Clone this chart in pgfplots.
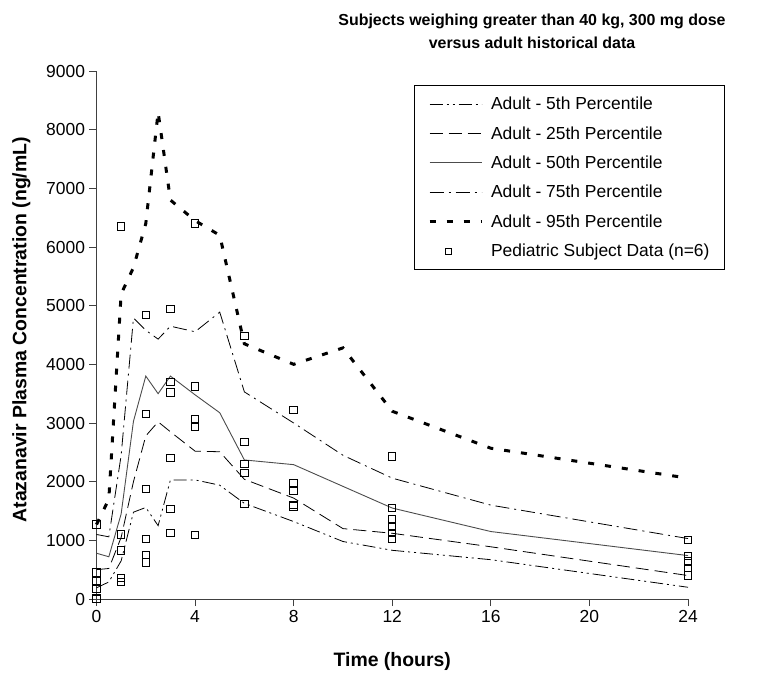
\documentclass[border=0pt]{standalone}
\usepackage{pgfplots}
\pgfplotsset{compat=1.18}
\usepackage{fontspec}
\setmainfont{Liberation Sans}
\pgfplotsset{
  linelegend/.style={legend image code/.code={\draw[##1] (0bp,0bp) -- (52bp,0bp); \path (59bp,0bp);}},
  marklegend/.style={legend image code/.code={\path (0bp,0bp) (59bp,0bp); \draw[##1, mark size=3bp] plot coordinates {(19bp,0bp)};}},
}
\begin{document}
\begin{tikzpicture}
\path[use as bounding box] (0,0) rectangle (771bp,673bp);
\begin{axis}[
  at={(96.5bp,74bp)}, anchor=origin,
  scale only axis, width=591.5bp, height=528bp,
  xmin=0, xmax=24, ymin=0, ymax=9000,
  axis x line=bottom, axis y line=left,
  axis line style={-, line width=1bp, black!75},
  xtick={0,4,8,12,16,20,24},
  ytick={0,1000,2000,3000,4000,5000,6000,7000,8000,9000},
  tick align=outside, major tick length=7bp,
  tick style={line width=1bp, black!75},
  /pgf/number format/assume math mode=true,
  /pgf/number format/1000 sep={},
  tick label style={font=\fontsize{17.5}{17.5}\selectfont},
  xticklabel style={yshift=-1bp},
  yticklabel style={xshift=-1bp},
  xlabel={\textbf{Time (hours)}},
  xlabel style={font=\fontsize{19.5}{19.5}\selectfont, at={(axis description cs:0.5,0)}, anchor=base, yshift=-67bp},
  ylabel={\textbf{Atazanavir Plasma Concentration (ng/mL)}},
  ylabel style={font=\fontsize{19.5}{19.5}\selectfont, at={(axis description cs:-0.1268,0.51)}, anchor=center},
  clip=false,
  legend style={at={(1.0626,0.9735)}, anchor=north east, draw=black, line width=1bp,
    font=\fontsize{17.5}{17.5}\selectfont, row sep=13.3bp, inner xsep=14bp, inner ysep=10.5bp,
    nodes={inner sep=1bp}},
  legend cell align=left,
]
\addplot[black, line width=0.8bp, dash pattern=on 13bp off 4bp on 2bp off 4bp on 2bp off 4bp, linelegend] coordinates {
(0,190) (0.5,290) (1,650) (1.5,1480) (2,1560) (2.5,1250) (3,2030) (4,2030) (5,1940) (6,1630) (8,1320) (10,980) (12,830) (16,670) (24,200)};
\addlegendentry{Adult - 5th Percentile}
\addplot[black, line width=0.8bp, dash pattern=on 13bp off 6bp, linelegend] coordinates {
(0,500) (0.5,520) (1,1050) (1.5,2000) (2,2780) (2.5,3020) (3,2850) (4,2520) (5,2510) (6,2040) (8,1720) (10,1200) (12,1120) (16,890) (24,400)};
\addlegendentry{Adult - 25th Percentile}
\addplot[black!70, line width=0.9bp, linelegend] coordinates {
(0,780) (0.5,720) (1,1450) (1.5,3030) (2,3800) (2.5,3500) (3,3800) (4,3480) (5,3175) (6,2370) (8,2290) (12,1550) (16,1150) (24,740)};
\addlegendentry{Adult - 50th Percentile}
\addplot[black, line width=0.8bp, dash pattern=on 14bp off 5bp on 2bp off 5bp, linelegend] coordinates {
(0,1100) (0.5,1060) (1,2450) (1.5,4790) (2,4580) (2.5,4430) (3,4650) (4,4555) (5,4890) (6,3530) (8,3000) (10,2450) (12,2060) (16,1600) (24,1030)};
\addlegendentry{Adult - 75th Percentile}
\addplot[black, line width=3bp, dash pattern=on 6bp off 11bp, linelegend] coordinates {
(0,1270) (0.5,1700) (1,5200) (1.5,5650) (2,6400) (2.5,8300) (3,6800) (4,6450) (5,6200) (6,4350) (8,4000) (10,4280) (12,3200) (16,2570) (24,2060)};
\addlegendentry{Adult - 95th Percentile}
\addplot[only marks, mark=square, mark size=3.7bp, mark options={black, line width=1bp, fill=white}, marklegend] coordinates {
(0,1270) (0,450) (0,300) (0,180) (0,0) (0,10)
(1,6350) (1,1100) (1,830) (1,360) (1,290)
(2,4840) (2,3150) (2,1870) (2,1020) (2,750) (2,620)
(3,4940) (3,3700) (3,3520) (3,2400) (3,1530) (3,1120)
(4,6400) (4,3620) (4,3060) (4,2940) (4,1090)
(6,4480) (6,2680) (6,2300) (6,2150) (6,1620)
(8,3220) (8,1980) (8,1840) (8,1600) (8,1580)
(12,2430) (12,1550) (12,1360) (12,1230) (12,1130) (12,1020)
(24,1010) (24,735) (24,640) (24,525) (24,400)};
\addlegendentry{Pediatric Subject Data (n=6)}
\end{axis}
\node[font=\bfseries\fontsize{16}{23}\selectfont, align=center] at (532bp,641.5bp)
  {Subjects weighing greater than 40 kg, 300 mg dose\\versus adult historical data};
\end{tikzpicture}
\end{document}
